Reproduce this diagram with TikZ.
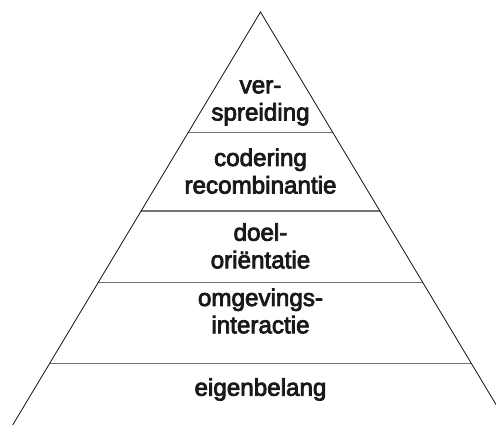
\documentclass[tikz,border=0pt]{standalone}
\usepackage{fontspec}
\setmainfont{Liberation Sans}
\newfontfamily\layerfont[FakeBold=3.2]{Liberation Sans}
\usetikzlibrary{calc}
\begin{document}
\begin{tikzpicture}[x=1pt,y=1pt,
  side/.style={draw=black,line width=0.7pt},
  divider/.style={draw=black!55,line width=1.1pt},
  label/.style={anchor=base,inner sep=0pt,text=black!90,font=\layerfont\fontsize{24.2}{27}\selectfont}]
  \useasboundingbox (0,0) rectangle (496,425);
  \clip (0,0) rectangle (496,425);
  \coordinate (apex) at (260.5,413);
  \coordinate (bl) at (12.7,0);
  \coordinate (br) at (508.3,0);
  % layer dividers
  \foreach \t [count=\i] in {0.2913,0.4818,0.6554,0.8511}{
    \coordinate (l\i) at ($(apex)!\t!(bl)$);
    \coordinate (r\i) at ($(apex)!\t!(br)$);
    \draw[divider] (l\i) -- (r\i);
  }
  % pyramid sides, open at the base
  \draw[side] (bl) -- (apex) -- (br);
  % layer labels
  \node[label] (t1a) at (260.5,331.7) {ver-};
  \node[label] (t1b) at (260.5,304.5) {spreiding};
  \node[label] (t2a) at (260.5,259.0) {codering};
  \node[label] (t2b) at (260.5,231.5) {recombinantie};
  \node[label] (t3a) at (260.5,184.3) {doel-};
  \node[label] (t3b) at (260.5,156.7) {oriëntatie};
  \node[label] (t4a) at (260.5,119.0) {omgevings-};
  \node[label] (t4b) at (260.5,91.7) {interactie};
  \node[label] (t5) at (260.5,29.3) {eigenbelang};
\end{tikzpicture}
\end{document}
